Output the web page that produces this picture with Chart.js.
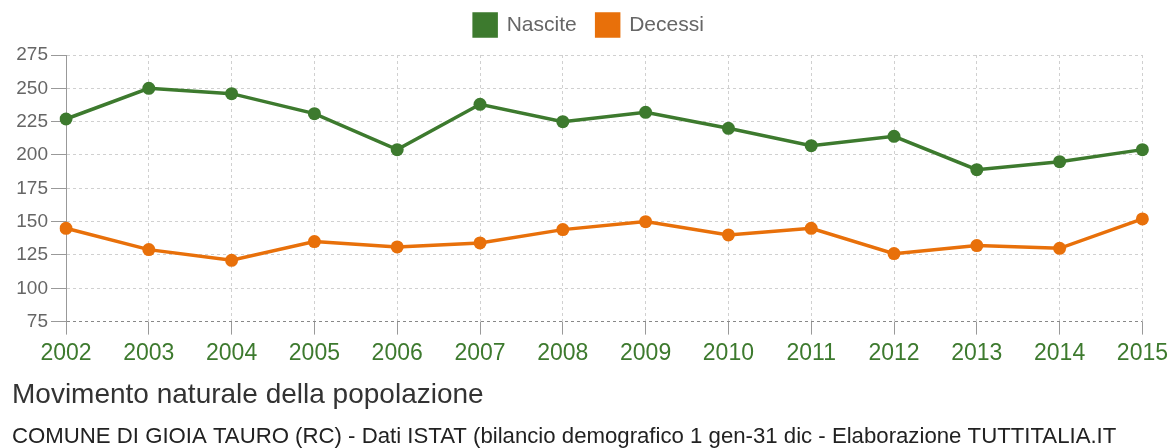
<!DOCTYPE html>
<html>
<head>
<meta charset="utf-8">
<script src="https://cdn.jsdelivr.net/npm/chart.js@4/dist/chart.umd.min.js"></script>
<style>
html,body{margin:0;padding:0;background:#fff;}
#wrap{width:1173px;height:448px;position:relative;}
</style>
</head>
<body>
<div id="wrap"><canvas id="c" width="1173" height="448"></canvas></div>
<script>
const years = ['2002','2003','2004','2005','2006','2007','2008','2009','2010','2011','2012','2013','2014','2015'];
const nascite = [227,250,246,231,204,238,225,232,220,207,214,189,195,204];
const decessi = [145,129,121,135,131,134,144,150,140,145,126,132,130,152];
const seriesNames = ['Nascite','Decessi'];
const titleText = 'Movimento naturale della popolazione';
const subtitleText = 'COMUNE DI GIOIA TAURO (RC) - Dati ISTAT (bilancio demografico 1 gen-31 dic - Elaborazione TUTTITALIA.IT';

const GREEN = '#3d7a2e';
const ORANGE = '#e8700a';

Chart.defaults.font.family = "'Liberation Sans', Arial, Helvetica, sans-serif";

const legendFix = {
  id: 'legendFix',
  beforeInit(chart) {
    const lg = chart.legend;
    if (lg) {
      const orig = lg.fit;
      lg.fit = function() { orig.call(this); this.height = 61; };
    }
  }
};

new Chart(document.getElementById('c'), {
  type: 'line',
  data: {
    labels: years,
    datasets: [
      { label: seriesNames[0], data: nascite, borderColor: GREEN, backgroundColor: GREEN,
        borderWidth: 3.5, pointRadius: 6.5, pointHoverRadius: 6.5, pointBackgroundColor: GREEN, pointBorderWidth: 0, tension: 0 },
      { label: seriesNames[1], data: decessi, borderColor: ORANGE, backgroundColor: ORANGE,
        borderWidth: 3.5, pointRadius: 6.5, pointHoverRadius: 6.5, pointBackgroundColor: ORANGE, pointBorderWidth: 0, tension: 0 }
    ]
  },
  options: {
    responsive: false,
    animation: false,
    layout: { padding: { top: -6, left: 12, right: 7, bottom: 0 } },
    plugins: {
      legend: {
        position: 'top',
        labels: { boxWidth: 22, boxHeight: 22, padding: 20, color: '#666', font: { size: 21 } }
      },
      title: {
        display: true, text: titleText, position: 'bottom', align: 'start',
        color: '#333', font: { size: 28, weight: 'normal' }, padding: { top: 6, bottom: 4 }, weight: 1500
      },
      subtitle: {
        display: true, text: subtitleText, position: 'bottom', align: 'start',
        color: '#222', font: { size: 22.2, weight: 'normal', lineHeight: 1.0 }, padding: { top: 10, bottom: 0 }, weight: 2000
      },
      tooltip: { enabled: false }
    },
    scales: {
      x: {
        offset: false,
        border: { display: false, dash: [3, 3] },
        grid: { color: '#d0d0d0', tickColor: '#999', tickLength: 13, tickBorderDash: [], lineWidth: 1 },
        ticks: { color: GREEN, font: { size: 23 }, padding: 5, maxRotation: 0, autoSkip: false }
      },
      y: {
        min: 75, max: 275,
        border: { display: true, color: '#999', dash: [3, 3] },
        grid: { color: (ctx) => (ctx.tick && ctx.tick.value === 75 ? '#888' : '#d0d0d0'), tickColor: '#999', tickLength: 15, tickBorderDash: [] },
        ticks: { stepSize: 25, color: '#666', font: { size: 19 }, padding: 3 },
        afterFit(scale) { scale.width = 54; }
      }
    }
  },
  plugins: [legendFix]
});
</script>
</body>
</html>
